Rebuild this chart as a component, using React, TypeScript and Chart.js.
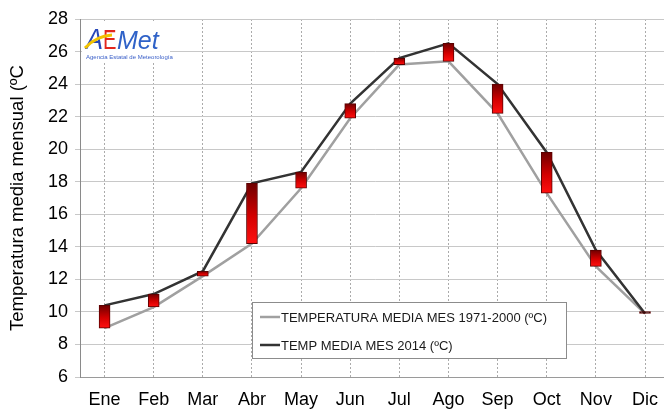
import React, { useEffect, useRef } from "react";
import { Chart, registerables } from "chart.js";
Chart.register(...registerables);

const months = ["Ene", "Feb", "Mar", "Abr", "May", "Jun", "Jul", "Ago", "Sep", "Oct", "Nov", "Dic"];
const normal19712000 = [9.0, 10.3, 12.2, 14.2, 17.6, 21.9, 25.2, 25.4, 22.2, 17.3, 12.8, 9.9];
const mean2014 = [10.4, 11.1, 12.5, 17.9, 18.6, 22.8, 25.6, 26.5, 24.0, 19.8, 13.8, 9.9];
const yMin = 6;
const yMax = 28;
const yStep = 2;
const normalLabel = "TEMPERATURA MEDIA MES 1971-2000 (ºC)";
const label2014 = "TEMP MEDIA MES 2014 (ºC)";
const yTitle = "Temperatura media mensual (ºC";
const logoSubtitle = "Agencia Estatal de Meteorología";

const FONT = "'Liberation Sans', Arial, Helvetica, sans-serif";

const overlayPlugin = {
  id: "overlay",
  afterDraw(chart: any) {
    const ctx = chart.ctx as CanvasRenderingContext2D;
    const ca = chart.chartArea;
    // Logo
    ctx.save();
    const lx = ca.left + 2;
    const ly = ca.top + 2;
    ctx.fillStyle = "#ffffff";
    ctx.fillRect(lx, ly, 88, 42);
    ctx.textBaseline = "alphabetic";
    // A
    ctx.save();
    ctx.translate(lx + 4, ly + 28);
    ctx.scale(0.85, 1);
    ctx.font = `italic 30px ${FONT}`;
    ctx.fillStyle = "#2747b8";
    ctx.fillText("A", 0, 0);
    ctx.restore();
    // E
    ctx.save();
    ctx.translate(lx + 21, ly + 28);
    ctx.scale(0.72, 1);
    ctx.font = `28px ${FONT}`;
    ctx.fillStyle = "#e3261c";
    ctx.fillText("E", 0, 0);
    ctx.restore();
    // Met
    ctx.font = `italic 25px ${FONT}`;
    ctx.fillStyle = "#2f62c8";
    ctx.fillText("Met", lx + 35, ly + 28);
    // swoosh
    ctx.strokeStyle = "#f3c300";
    ctx.lineWidth = 3;
    ctx.beginPath();
    ctx.moveTo(lx + 3, ly + 27);
    ctx.quadraticCurveTo(lx + 14, ly + 15, lx + 30, ly + 14);
    ctx.stroke();
    ctx.fillStyle = "#3a5fc8";
    ctx.font = `6px ${FONT}`;
    ctx.fillText(logoSubtitle, lx + 4, ly + 38);
    ctx.restore();

    // Legend box
    ctx.save();
    const bx = ca.left + 172;
    const by = ca.top + 283;
    const bw = 314;
    const bh = 56;
    ctx.fillStyle = "#ffffff";
    ctx.fillRect(bx, by, bw, bh);
    ctx.strokeStyle = "#8c8c8c";
    ctx.lineWidth = 1;
    ctx.strokeRect(bx + 0.5, by + 0.5, bw, bh);
    const items = [
      { text: normalLabel, color: "#a0a0a0", y: by + 15 },
      { text: label2014, color: "#333333", y: by + 43 },
    ];
    ctx.font = `13px ${FONT}`;
    ctx.textBaseline = "middle";
    for (const it of items) {
      ctx.strokeStyle = it.color;
      ctx.lineWidth = 2.5;
      ctx.beginPath();
      ctx.moveTo(bx + 8, it.y);
      ctx.lineTo(bx + 28, it.y);
      ctx.stroke();
      ctx.fillStyle = "#1a1a1a";
      ctx.fillText(it.text, bx + 29, it.y + 1);
    }
    ctx.restore();
  },
};

export default function App() {
  const ref = useRef<HTMLCanvasElement | null>(null);
  useEffect(() => {
    if (!ref.current) return;
    const barData = months.map((_, i) => [normal19712000[i], mean2014[i]]);
    const chart = new Chart(ref.current, {
      type: "bar",
      data: {
        labels: months,
        datasets: [
          {
            type: "bar",
            label: "Diferencia",
            data: barData as any,
            barThickness: 11,
            minBarLength: 2,
            borderSkipped: false,
            borderWidth: 1,
            borderColor: "#5a0000",
            backgroundColor: (c: any) => {
              const chartRef = c.chart;
              const y = chartRef.scales?.y;
              if (!y || c.type !== "data" || !Array.isArray(c.raw)) return "#d00000";
              const top = y.getPixelForValue(Math.max(c.raw[0], c.raw[1]));
              const bot = y.getPixelForValue(Math.min(c.raw[0], c.raw[1]));
              if (!(bot - top > 1)) return "#300000";
              const g = chartRef.ctx.createLinearGradient(0, top, 0, bot);
              g.addColorStop(0, "#6e0000");
              g.addColorStop(0.55, "#d40000");
              g.addColorStop(1, "#ff1010");
              return g;
            },
            order: 0,
          },
          {
            type: "line",
            label: normalLabel,
            data: normal19712000,
            borderColor: "#a0a0a0",
            borderWidth: 2.5,
            pointRadius: 0,
            tension: 0,
            order: 2,
          },
          {
            type: "line",
            label: label2014,
            data: mean2014,
            borderColor: "#333333",
            borderWidth: 2.5,
            pointRadius: 0,
            tension: 0,
            order: 1,
          },
        ],
      },
      options: {
        animation: false,
        responsive: false,
        devicePixelRatio: 1,
        layout: { padding: { top: 19, left: 0, right: 0, bottom: 0 } },
        plugins: { legend: { display: false }, tooltip: { enabled: false } },
        scales: {
          x: {
            offset: true,
            grid: { offset: false, color: "#ababab", lineWidth: 1, drawTicks: false },
            border: { display: true, color: "#9a9a9a", width: 1, dash: [2, 2] },
            ticks: { color: "#000", font: { family: FONT, size: 18 }, padding: 12 },
            afterFit: (s: any) => {
              s.height = 33;
            },
          },
          y: {
            min: yMin,
            max: yMax,
            ticks: { stepSize: yStep, color: "#000", font: { family: FONT, size: 18 }, padding: 7 },
            grid: { color: "#c8c8c8", lineWidth: 1, tickLength: 5 },
            border: { display: true, color: "#8a8a8a", width: 1 },
            title: {
              display: true,
              text: yTitle,
              color: "#000",
              font: { family: FONT, size: 18.5 },
              padding: { top: 7, bottom: 0 },
            },
            afterFit: (s: any) => {
              s.width = 80;
            },
          },
        },
      },
      plugins: [overlayPlugin],
    } as any);
    return () => chart.destroy();
  }, []);
  return (
    <div
      style={{
        position: "absolute",
        left: 0,
        top: 0,
        width: 664,
        height: 410,
        overflow: "hidden",
        background: "#fff",
      }}
    >
      <canvas ref={ref} width={670} height={410} style={{ width: 670, height: 410, display: "block" }} />
    </div>
  );
}
